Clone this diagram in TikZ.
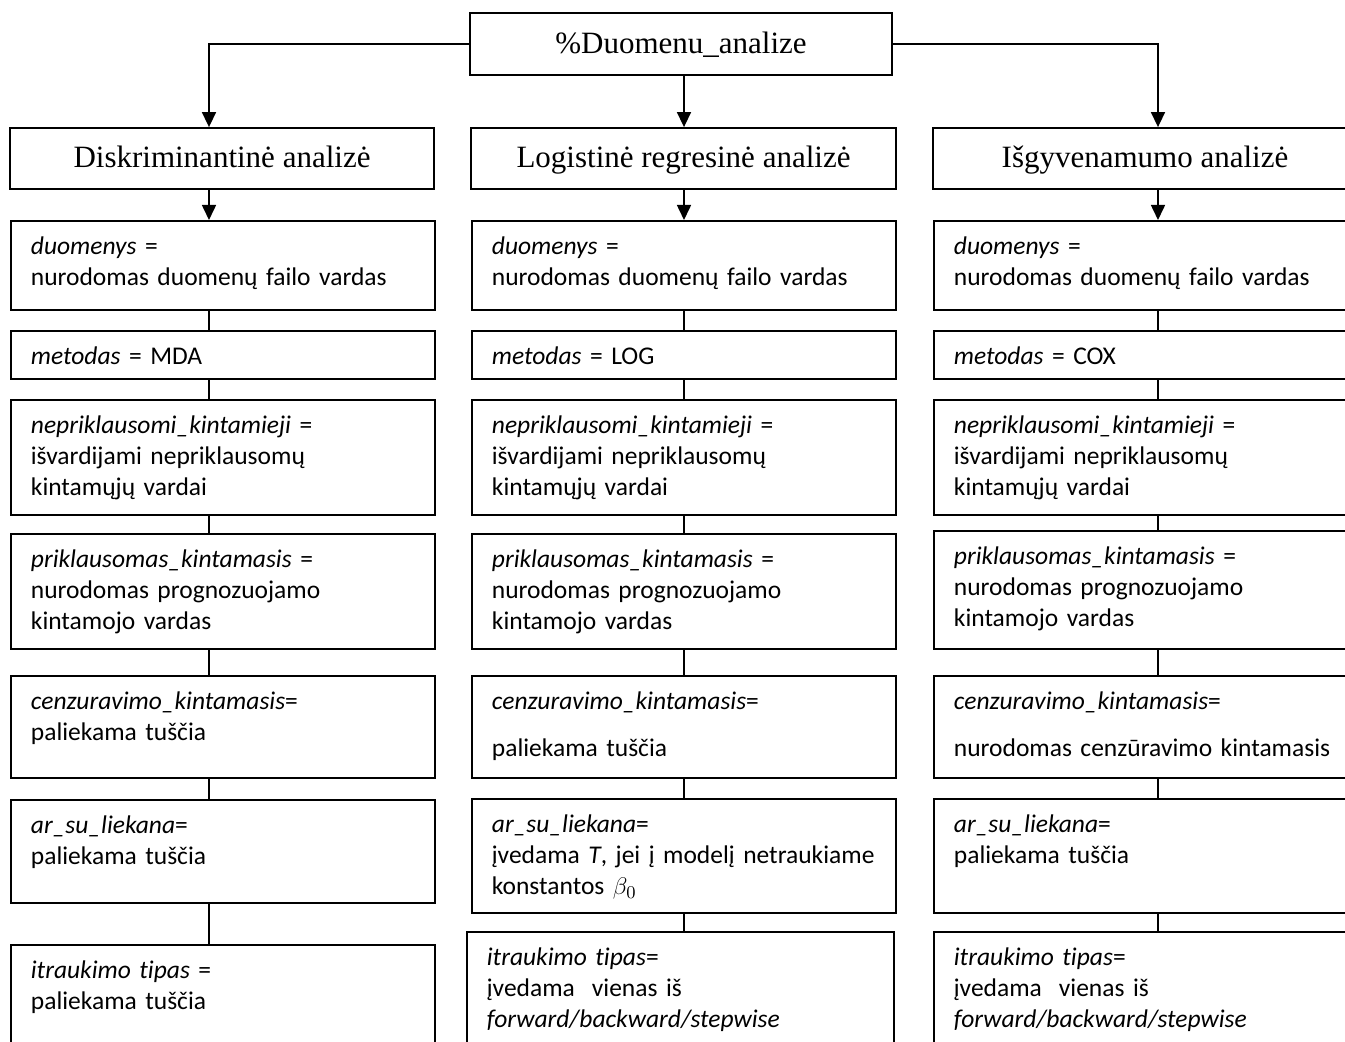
\documentclass[tikz,border=0pt]{standalone}
\usepackage{fontspec}
\setmainfont{Liberation Serif}
\newfontfamily\calibri[Ligatures=NoCommon]{Carlito}
\usetikzlibrary{arrows.meta}
\tikzset{
  >={Triangle[length=7.5pt,width=7pt]},
  head/.style={draw,line width=0.9pt,inner sep=0,text height=12pt,text depth=2.5pt,
    font=\fontsize{15.5}{18}\selectfont},
  cell/.style={draw,line width=0.9pt,anchor=north west,align=left,text width=192pt,
    inner xsep=10pt,inner ysep=0,text height=17pt,font=\calibri\fontsize{12.75}{15.5}\selectfont},
  link/.style={line width=0.8pt},
  arrow/.style={link,->}
}
\begin{document}
\begin{tikzpicture}[x=0.5pt,y=-0.5pt]
  \path[use as bounding box,clip] (0,0) rectangle (1345,1042);

  % column axes for the connectors
  \coordinate (xL) at (209,0);
  \coordinate (xM) at (684,0);
  \coordinate (xR) at (1158,0);

  % --- ROOT ---
  \node[head,minimum width=211pt,minimum height=31pt] (top) at (681,44) {\%Duomenu\_analize};

  % --- HEADERS ---
  \node[head,minimum width=212pt,minimum height=30.5pt] (HL) at (222,158.5) {Diskriminantinė analizė};
  \node[head,minimum width=212.5pt,minimum height=30.5pt] (HM) at (683.5,158.5) {Logistinė regresinė analizė};
  \node[head,minimum width=212pt,minimum height=30.5pt] (HR) at (1145,158.5) {Išgyvenamumo analizė};

  \draw[arrow] (top.west) -| (HL.north -| xL);
  \draw[arrow] (top.south -| xM) -- (HM.north -| xM);
  \draw[arrow] (top.east) -| (HR.north -| xR);

  % --- LEFT: discriminant ---
  \node[cell,text depth=27.5pt] (L1) at (10,220) {\textit{duomenys} =\\nurodomas duomenų failo vardas};
  \node[cell,text depth=7pt] (L2) at (10,330) {\textit{metodas} = MDA};
  \node[cell,text depth=40.5pt] (L3) at (10,399) {\textit{nepriklausomi\_kintamieji} =\\išvardijami nepriklausomų\\kintamųjų vardai};
  \node[cell,text depth=40.5pt] (L4) at (10,533) {\textit{priklausomas\_kintamasis} =\\nurodomas prognozuojamo\\kintamojo vardas};
  \node[cell,text depth=34pt] (L5) at (10,675) {\textit{cenzuravimo\_kintamasis}=\\paliekama tuščia};
  \node[cell,text depth=34.5pt] (L6) at (10,799) {\textit{ar\_su\_liekana}=\\paliekama tuščia};
  \node[cell,text depth=61pt] (L7) at (10,944) {\textit{itraukimo tipas} =\\paliekama tuščia};

  % --- MIDDLE: logistic ---
  \node[cell,text depth=27.5pt] (M1) at (471,220) {\textit{duomenys} =\\nurodomas duomenų failo vardas};
  \node[cell,text depth=7pt] (M2) at (471,330) {\textit{metodas} = LOG};
  \node[cell,text depth=40.5pt] (M3) at (471,399) {\textit{nepriklausomi\_kintamieji} =\\išvardijami nepriklausomų\\kintamųjų vardai};
  \node[cell,text depth=40.5pt] (M4) at (471,533) {\textit{priklausomas\_kintamasis} =\\nurodomas prognozuojamo\\kintamojo vardas};
  \node[cell,text depth=34pt] (M5) at (471,675) {\textit{cenzuravimo\_kintamasis}=\\[8pt]paliekama tuščia};
  \node[cell,text depth=40pt] (M6) at (471,798) {\textit{ar\_su\_liekana}=\\\mbox{įvedama \textit{T}, jei į modelį netraukiame}\\konstantos $\beta_0$};
  \node[cell,text width=193.5pt,text depth=67.5pt] (M7) at (466,931) {\textit{itraukimo tipas}=\\įvedama\ \ vienas iš\\\textit{forward/backward/stepwise}};

  % --- RIGHT: survival ---
  \node[cell,text width=200pt,text depth=27.5pt] (R1) at (933,220) {\textit{duomenys} =\\nurodomas duomenų failo vardas};
  \node[cell,text width=200pt,text depth=7pt] (R2) at (933,330) {\textit{metodas} = COX};
  \node[cell,text width=200pt,text depth=40.5pt] (R3) at (933,399) {\textit{nepriklausomi\_kintamieji} =\\išvardijami nepriklausomų\\kintamųjų vardai};
  \node[cell,text width=200pt,text depth=42pt] (R4) at (933,530) {\textit{priklausomas\_kintamasis} =\\nurodomas prognozuojamo\\kintamojo vardas};
  \node[cell,text width=200pt,text depth=34pt] (R5) at (933,675) {\textit{cenzuravimo\_kintamasis}=\\[8pt]\mbox{nurodomas cenzūravimo kintamasis}};
  \node[cell,text width=200pt,text depth=40pt] (R6) at (933,798) {\textit{ar\_su\_liekana}=\\paliekama tuščia};
  \node[cell,text width=200pt,text depth=67.5pt] (R7) at (933,931) {\textit{itraukimo tipas}=\\įvedama\ \ vienas iš\\\textit{forward/backward/stepwise}};

  % Connections
  \foreach \c in {L,M,R} \draw[arrow] (H\c.south -| x\c) -- (\c1.north -| x\c);
  \foreach \c in {L,M,R} \foreach \i/\j in {1/2,2/3,3/4,4/5,5/6,6/7}
    \draw[link] (\c\i.south -| x\c) -- (\c\j.north -| x\c);

\end{tikzpicture}
\end{document}
